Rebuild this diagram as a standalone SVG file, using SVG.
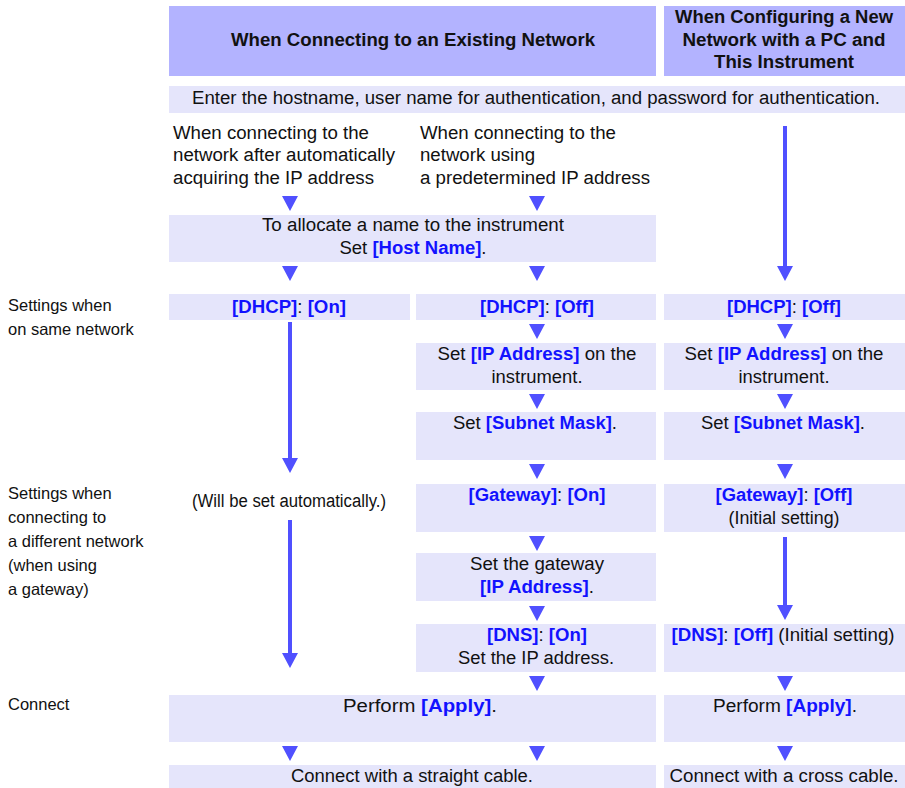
<svg xmlns="http://www.w3.org/2000/svg" width="905" height="788" viewBox="0 0 905 788">
<style>
.hdr{fill:#b3b3ff}
.box{fill:#e5e5fb}
.t{font-family:"Liberation Sans",Arial,sans-serif;font-size:18px;fill:#111}
.h{font-family:"Liberation Sans",Arial,sans-serif;font-size:18px;font-weight:bold;fill:#111}
.l{font-family:"Liberation Sans",Arial,sans-serif;font-size:16.5px;fill:#111}
.b{font-weight:bold;fill:#1212ff}
.c{text-anchor:middle}
.arr{fill:#5050ff}
.ln{stroke:#5050ff;stroke-width:4}
</style>
<rect width="905" height="788" fill="#fff"/>
<g id="header-existing"><rect class="hdr" x="169" y="6" width="487" height="70"/><text class="h c" x="413" y="46" textLength="364" lengthAdjust="spacingAndGlyphs">When Connecting to an Existing Network</text></g>
<g id="header-new"><rect class="hdr" x="664" y="6" width="241" height="70"/>
<text class="h c" x="784" y="23" textLength="218" lengthAdjust="spacingAndGlyphs">When Configuring a New</text>
<text class="h c" x="784" y="46" textLength="203" lengthAdjust="spacingAndGlyphs">Network with a PC and</text>
<text class="h c" x="784" y="68" textLength="140" lengthAdjust="spacingAndGlyphs">This Instrument</text></g>
<g id="enter"><rect class="box" x="169" y="86" width="736" height="27"/><text class="t c" x="536" y="104" textLength="688" lengthAdjust="spacingAndGlyphs">Enter the hostname, user name for authentication, and password for authentication.</text></g>
<g id="auto-ip"><text class="t" x="173" y="139" textLength="196" lengthAdjust="spacingAndGlyphs">When connecting to the</text><text class="t" x="173" y="161" textLength="222" lengthAdjust="spacingAndGlyphs">network after automatically</text><text class="t" x="173" y="184" textLength="201" lengthAdjust="spacingAndGlyphs">acquiring the IP address</text></g>
<g id="fixed-ip"><text class="t" x="420" y="139" textLength="196" lengthAdjust="spacingAndGlyphs">When connecting to the</text><text class="t" x="420" y="161" textLength="115" lengthAdjust="spacingAndGlyphs">network using</text><text class="t" x="420" y="184" textLength="230" lengthAdjust="spacingAndGlyphs">a predetermined IP address</text></g>
<g id="hostname"><rect class="box" x="169" y="215" width="487" height="47"/><text class="t c" x="413" y="231" textLength="302" lengthAdjust="spacingAndGlyphs">To allocate a name to the instrument</text><text class="t c" x="413" y="254" textLength="147" lengthAdjust="spacingAndGlyphs">Set <tspan class="b">[Host Name]</tspan>.</text></g>
<g id="lbl-same"><text class="l" x="8" y="311">Settings when</text><text class="l" x="8" y="335">on same network</text></g>
<g id="lbl-diff"><text class="l" x="8" y="499">Settings when</text><text class="l" x="8" y="523">connecting to</text><text class="l" x="8" y="547">a different network</text><text class="l" x="8" y="571">(when using</text><text class="l" x="8" y="595">a gateway)</text></g>
<g id="lbl-connect"><text class="l" x="8" y="710">Connect</text></g>
<g id="dhcp-on"><rect class="box" x="169" y="294" width="241" height="26"/><text class="t c" x="289" y="313" textLength="114" lengthAdjust="spacingAndGlyphs"><tspan class="b">[DHCP]</tspan>: <tspan class="b">[On]</tspan></text></g>
<g id="dhcp-off-2"><rect class="box" x="416" y="294" width="240" height="26"/><text class="t c" x="537" y="313" textLength="114" lengthAdjust="spacingAndGlyphs"><tspan class="b">[DHCP]</tspan>: <tspan class="b">[Off]</tspan></text></g>
<g id="dhcp-off-3"><rect class="box" x="664" y="294" width="241" height="26"/><text class="t c" x="784" y="313" textLength="114" lengthAdjust="spacingAndGlyphs"><tspan class="b">[DHCP]</tspan>: <tspan class="b">[Off]</tspan></text></g>
<g id="ip-2"><rect class="box" x="416" y="343" width="240" height="47"/><text class="t c" x="537" y="360" textLength="199" lengthAdjust="spacingAndGlyphs">Set <tspan class="b">[IP Address]</tspan> on the</text><text class="t c" x="537" y="383" textLength="91" lengthAdjust="spacingAndGlyphs">instrument.</text></g>
<g id="ip-3"><rect class="box" x="664" y="343" width="241" height="47"/><text class="t c" x="784" y="360" textLength="199" lengthAdjust="spacingAndGlyphs">Set <tspan class="b">[IP Address]</tspan> on the</text><text class="t c" x="784" y="383" textLength="91" lengthAdjust="spacingAndGlyphs">instrument.</text></g>
<g id="mask-2"><rect class="box" x="416" y="412" width="240" height="48"/><text class="t c" x="535" y="429" textLength="164" lengthAdjust="spacingAndGlyphs">Set <tspan class="b">[Subnet Mask]</tspan>.</text></g>
<g id="mask-3"><rect class="box" x="664" y="412" width="241" height="48"/><text class="t c" x="783" y="429" textLength="164" lengthAdjust="spacingAndGlyphs">Set <tspan class="b">[Subnet Mask]</tspan>.</text></g>
<g id="auto-set"><text class="t" x="192" y="507" font-size="16" textLength="194" lengthAdjust="spacingAndGlyphs">(Will be set automatically.)</text></g>
<g id="gw-on"><rect class="box" x="416" y="484" width="240" height="48"/><text class="t c" x="537" y="501" textLength="137" lengthAdjust="spacingAndGlyphs"><tspan class="b">[Gateway]</tspan>: <tspan class="b">[On]</tspan></text></g>
<g id="gw-off"><rect class="box" x="664" y="484" width="241" height="48"/><text class="t c" x="784" y="501" textLength="137" lengthAdjust="spacingAndGlyphs"><tspan class="b">[Gateway]</tspan>: <tspan class="b">[Off]</tspan></text><text class="t c" x="784" y="524" textLength="111" lengthAdjust="spacingAndGlyphs">(Initial setting)</text></g>
<g id="gw-ip"><rect class="box" x="416" y="553" width="240" height="48"/><text class="t c" x="537" y="570" textLength="134" lengthAdjust="spacingAndGlyphs">Set the gateway</text><text class="t c" x="537" y="593" textLength="114" lengthAdjust="spacingAndGlyphs"><tspan class="b">[IP Address]</tspan>.</text></g>
<g id="dns-on"><rect class="box" x="416" y="624" width="240" height="48"/><text class="t c" x="537" y="641" textLength="100" lengthAdjust="spacingAndGlyphs"><tspan class="b">[DNS]</tspan>: <tspan class="b">[On]</tspan></text><text class="t c" x="536" y="664" textLength="156" lengthAdjust="spacingAndGlyphs">Set the IP address.</text></g>
<g id="dns-off"><rect class="box" x="664" y="624" width="241" height="48"/><text class="t c" x="783" y="641" textLength="223" lengthAdjust="spacingAndGlyphs"><tspan class="b">[DNS]</tspan>: <tspan class="b">[Off]</tspan> (Initial setting)</text></g>
<g id="apply-1"><rect class="box" x="169" y="695" width="487" height="47"/><text class="t c" x="420" y="712" textLength="154" lengthAdjust="spacingAndGlyphs">Perform <tspan class="b">[Apply]</tspan>.</text></g>
<g id="apply-2"><rect class="box" x="664" y="695" width="241" height="47"/><text class="t c" x="785" y="712" textLength="144" lengthAdjust="spacingAndGlyphs">Perform <tspan class="b">[Apply]</tspan>.</text></g>
<g id="straight"><rect class="box" x="169" y="765" width="487" height="23"/><text class="t c" x="412" y="782" textLength="242" lengthAdjust="spacingAndGlyphs">Connect with a straight cable.</text></g>
<g id="cross"><rect class="box" x="664" y="765" width="241" height="23"/><text class="t c" x="784" y="782" textLength="229" lengthAdjust="spacingAndGlyphs">Connect with a cross cable.</text></g>
<g id="connectors">
<line class="ln" x1="785" y1="126" x2="785" y2="268"/>
<line class="ln" x1="290" y1="322" x2="290" y2="460"/>
<line class="ln" x1="290" y1="520" x2="290" y2="655"/>
<line class="ln" x1="785" y1="537" x2="785" y2="607"/>
<g class="arr">
<polygon points="282,196 298,196 290,211"/><polygon points="529,196 545,196 537,211"/>
<polygon points="777,266 793,266 785,281"/>
<polygon points="282,266 298,266 290,281"/><polygon points="529,266 545,266 537,281"/>
<polygon points="282,458 298,458 290,473"/>
<polygon points="529,324 545,324 537,339"/><polygon points="777,324 793,324 785,339"/>
<polygon points="529,394 545,394 537,409"/><polygon points="777,394 793,394 785,409"/>
<polygon points="529,464 545,464 537,479"/><polygon points="777,464 793,464 785,479"/>
<polygon points="282,653 298,653 290,668"/>
<polygon points="529,536 545,536 537,551"/>
<polygon points="777,605 793,605 785,620"/>
<polygon points="529,606 545,606 537,621"/>
<polygon points="529,676 545,676 537,691"/><polygon points="777,676 793,676 785,691"/>
<polygon points="282,746 298,746 290,761"/><polygon points="529,746 545,746 537,761"/><polygon points="777,746 793,746 785,761"/>
</g>
</g>
</svg>
